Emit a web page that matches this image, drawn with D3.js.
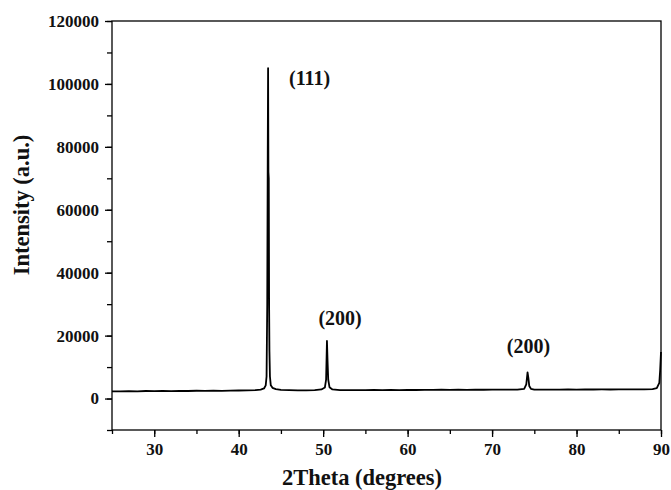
<!DOCTYPE html>
<html>
<head>
<meta charset="utf-8">
<script src="https://cdn.jsdelivr.net/npm/d3@7"></script>
<style>
  body { margin: 0; background: #fff; }
  svg text { font-family: "Liberation Serif", "Times New Roman", serif; font-weight: bold; fill: #111; }
  .axis path, .axis line { stroke: #000; stroke-width: 1.3; }
</style>
</head>
<body>
<svg width="671" height="490"></svg>
<script>
const twoTheta = [
  25, 26, 27, 28, 29, 30, 31, 32, 33, 34, 35, 36, 37, 38, 39, 40, 41, 42, 42.6,
  43.0, 43.2, 43.3, 43.38, 43.44, 43.48, 43.52, 43.56, 43.6, 43.64, 43.7, 43.8, 44.0, 44.4,
  45, 46, 47, 48, 49, 49.8, 50.2, 50.35, 50.45, 50.52, 50.6, 50.75, 51.1,
  52, 53, 54, 55, 56, 57, 58, 59, 60, 61, 62, 63, 64, 65, 66, 67, 68, 69, 70, 71, 72, 73,
  73.8, 74.05, 74.2, 74.3, 74.4, 74.6, 75,
  76, 77, 78, 79, 80, 81, 82, 83, 84, 85, 86, 87, 88, 89, 89.5, 89.8, 89.9, 90
];
const intensity = [
  2300, 2250, 2350, 2300, 2400, 2350, 2400, 2380, 2450, 2400, 2480, 2420, 2500, 2460, 2520, 2550, 2600, 2700, 2850,
  3200, 4200, 7000, 30000, 78000, 105000, 72000, 70000, 30000, 15000, 7000, 4200, 3400, 3000,
  2750, 2650, 2600, 2620, 2680, 2900, 3500, 6000, 18300, 12000, 6000, 3600, 2900,
  2700, 2650, 2700, 2680, 2720, 2700, 2750, 2700, 2760, 2720, 2780, 2750, 2800, 2760, 2800, 2780, 2820, 2800, 2850, 2820, 2860, 2850,
  3100, 4500, 8300, 6500, 4000, 3100, 2850,
  2820, 2860, 2840, 2880, 2850, 2900, 2870, 2900, 2880, 2920, 2900, 2940, 2920, 3000, 3300, 5000, 9000, 14800
];

// peak labels
const peakNames = ["(111)", "(200)", "(200)"];
const peakX = [48.4, 52.0, 74.3];
const peakY = [99500, 23400, 14500];

const xTicks = [30, 40, 50, 60, 70, 80, 90];
const yTicks = [0, 20000, 40000, 60000, 80000, 100000, 120000];

const svg = d3.select("svg");
const plotLeft = 112, plotRight = 661, plotTop = 21, plotBottom = 430;

const x = d3.scaleLinear().domain([25, 90]).range([plotLeft, plotRight]);
const y = d3.scaleLinear().domain([-10000, 120000]).range([plotBottom, plotTop]);

// frame
svg.append("rect")
  .attr("x", plotLeft).attr("y", plotTop)
  .attr("width", plotRight - plotLeft).attr("height", plotBottom - plotTop)
  .attr("fill", "none").attr("stroke", "#000").attr("stroke-width", 1.3);

// minor ticks
svg.append("g").attr("class", "axis")
  .attr("transform", `translate(0,${plotBottom})`)
  .call(d3.axisBottom(x).tickValues(d3.range(25, 91, 5)).tickSize(4).tickFormat(""))
  .select(".domain").remove();
svg.append("g").attr("class", "axis")
  .attr("transform", `translate(${plotLeft},0)`)
  .call(d3.axisLeft(y).tickValues(d3.range(-10000, 120001, 10000)).tickSize(5).tickFormat(""))
  .select(".domain").remove();

// major ticks with labels
const xAxis = svg.append("g").attr("class", "axis")
  .attr("transform", `translate(0,${plotBottom})`)
  .call(d3.axisBottom(x).tickValues(xTicks).tickSize(7).tickPadding(6).tickFormat(d3.format("d")));
xAxis.select(".domain").remove();
xAxis.selectAll("text").style("font-size", "17px");

const yAxis = svg.append("g").attr("class", "axis")
  .attr("transform", `translate(${plotLeft},0)`)
  .call(d3.axisLeft(y).tickValues(yTicks).tickSize(7).tickPadding(6).tickFormat(d3.format("d")));
yAxis.select(".domain").remove();
yAxis.selectAll("text").style("font-size", "17px");

// pattern
const line = d3.line()
  .x((d, i) => x(twoTheta[i]))
  .y(d => y(d));

svg.append("path")
  .datum(intensity)
  .attr("d", line)
  .attr("fill", "none")
  .attr("stroke", "#000")
  .attr("stroke-width", 1.8)
  .attr("stroke-linejoin", "round");

// peak labels
svg.selectAll(".peak")
  .data(peakNames)
  .enter()
  .append("text")
  .attr("class", "peak")
  .attr("x", (d, i) => x(peakX[i]))
  .attr("y", (d, i) => y(peakY[i]))
  .attr("text-anchor", "middle")
  .style("font-size", "20px")
  .text(d => d);

// axis titles
svg.append("text")
  .attr("x", 362)
  .attr("y", 485)
  .attr("text-anchor", "middle")
  .style("font-size", "22.5px")
  .text("2Theta (degrees)");

svg.append("text")
  .attr("transform", `translate(29,205) rotate(-90)`)
  .attr("text-anchor", "middle")
  .style("font-size", "22.5px")
  .text("Intensity (a.u.)");
</script>
</body>
</html>
